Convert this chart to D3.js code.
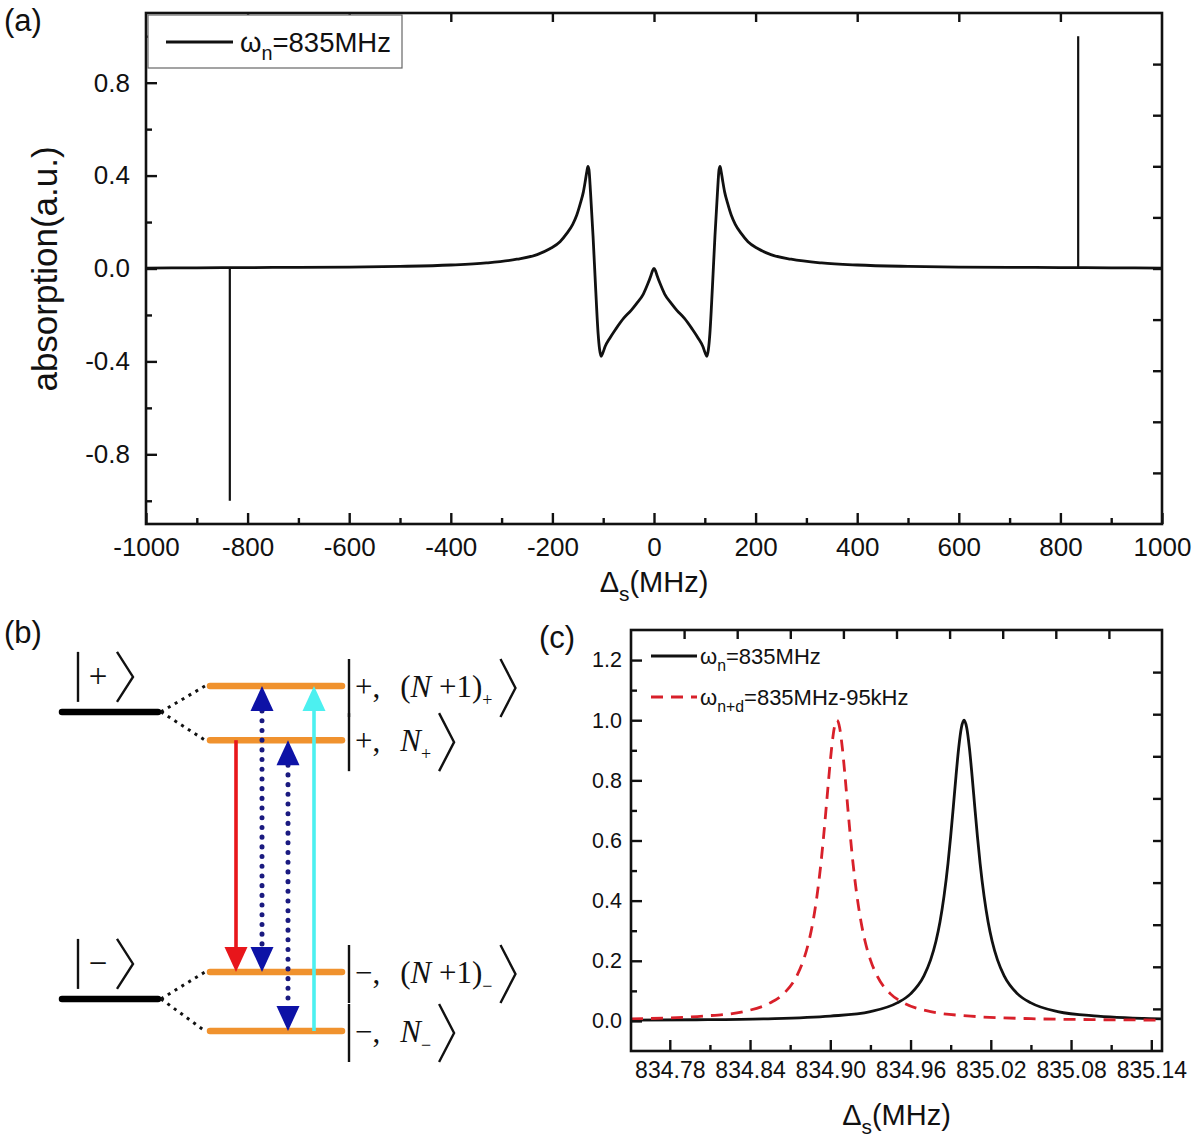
<!DOCTYPE html>
<html><head><meta charset="utf-8">
<script src="https://cdn.jsdelivr.net/npm/d3@7"></script>
<style>body{margin:0;background:#fff} svg{display:block}</style>
</head><body>
<svg id="fig" width="1200" height="1144"></svg>
<script>
// ---------------- DATA ----------------
// panel (a): absorption vs detuning
const absX = [-1000,-900,-800,-700,-600,-500,-400,-330,-270,-230,-205,-185,-172,-160,-152,-145,-139,-135,-132,-130,-128,-125,-120,-115,-110,-107,-104,-101,-96,-87,-75,-60,-45,-34,-21,-12,-6,-3,
  0,
  3,6,12,21,34,45,60,75,87,96,101,104,107,110,115,120,125,128,130,132,135,139,145,152,160,172,185,205,230,270,330,400,500,600,700,800,900,1000];
const absY = [0.002,0.003,0.004,0.005,0.006,0.009,0.015,0.024,0.040,0.060,0.085,0.115,0.150,0.190,0.230,0.280,0.330,0.380,0.420,0.440,0.425,0.330,0.140,-0.080,-0.280,-0.350,-0.378,-0.365,-0.335,-0.300,-0.260,-0.215,-0.180,-0.150,-0.110,-0.065,-0.030,-0.010,
  0.0,
  -0.010,-0.030,-0.065,-0.110,-0.150,-0.180,-0.215,-0.260,-0.300,-0.335,-0.365,-0.378,-0.350,-0.280,-0.080,0.140,0.330,0.425,0.440,0.420,0.380,0.330,0.280,0.230,0.190,0.150,0.115,0.085,0.060,0.040,0.024,0.015,0.009,0.006,0.005,0.004,0.003,0.002];
const spikeX = [-835, 835];
const spikeY = [-1.0, 1.0];
const aXMajor = [-1000,-800,-600,-400,-200,0,200,400,600,800,1000];
const aXMinor = [-900,-700,-500,-300,-100,100,300,500,700,900];
const aYMajor = [-0.8,-0.4,0.0,0.4,0.8];
const aYMinor = [-1.0,-0.6,-0.2,0.2,0.6,1.0];
const frameTicks = [0.1,0.2,0.3,0.4,0.5,0.6,0.7,0.8,0.9];
const legendA = ["ω","n","=835MHz"];

// panel (c): zoom on the resonance
const cBlackX = [834.751,834.80,834.85,834.90,834.93,834.95,834.96,834.97,834.975,834.979,834.982,834.985,834.988,834.99,834.992,834.994,834.996,834.998,835.0,835.002,835.004,835.006,835.008,835.01,835.012,835.015,835.018,835.021,835.025,835.03,835.04,835.05,835.07,835.10,835.148];
const cBlackY = [0.003,0.004,0.007,0.016,0.031,0.060,0.090,0.150,0.203,0.265,0.329,0.414,0.524,0.614,0.713,0.815,0.908,0.975,1.0,0.975,0.908,0.815,0.713,0.614,0.524,0.414,0.329,0.265,0.203,0.150,0.090,0.060,0.031,0.016,0.007];
const cRedX = [834.751,834.78,834.805,834.835,834.855,834.865,834.875,834.880,834.884,834.887,834.890,834.893,834.895,834.897,834.899,834.901,834.903,834.905,834.907,834.909,834.911,834.913,834.915,834.917,834.920,834.923,834.926,834.930,834.935,834.945,834.955,834.975,835.005,835.05,835.10,835.148];
const cRedY = [0.007,0.010,0.016,0.031,0.060,0.090,0.150,0.203,0.265,0.329,0.414,0.524,0.614,0.713,0.815,0.908,0.975,1.0,0.975,0.908,0.815,0.713,0.614,0.524,0.414,0.329,0.265,0.203,0.150,0.090,0.060,0.031,0.016,0.0075,0.0042,0.0027];
const cXMajor = [834.78,834.84,834.90,834.96,835.02,835.08,835.14];
const cXMinor = [834.81,834.87,834.93,834.99,835.05,835.11];
const cYMajor = [0.0,0.2,0.4,0.6,0.8,1.0,1.2];
const cYMinor = [0.1,0.3,0.5,0.7,0.9,1.1];
const legendC1 = ["ω","n","=835MHz"];
const legendC2 = ["ω","n+d","=835MHz-95kHz"];

// panel (b): level scheme (energies in arbitrary units)
const bareLevels = [9.25, 0.93];
const bareSign = ["+", "−"];
const dressedLevels = [10, 8.43, 1.71, 0];
const dressedParent = [0, 0, 1, 1];
const dressedSign = ["+", "+", "−", "−"];
const dressedPhoton = ["(N +1)", "N", "(N +1)", "N"];
const arrowFrom = [8.43, 10, 8.43, 0];
const arrowTo = [1.71, 1.71, 0, 10];
const arrowBoth = [false, true, true, false];
const arrowKind = ["red", "blue", "blue", "cyan"];

// ---------------- DRAWING ----------------
const svg = d3.select("#fig");
const SANS = "'Liberation Sans', Arial, Helvetica, sans-serif";
const SERIF = "'Liberation Serif', 'Times New Roman', serif";

function richText(g, x, y, parts, fs, anchor, subIdx) {
  const t = g.append("text").attr("x", x).attr("y", y)
    .attr("font-family", SANS).attr("font-size", fs)
    .attr("text-anchor", anchor || "start").attr("fill", "#111");
  const sh = fs * 0.3;
  parts.forEach((p, i) => {
    const isSub = (i === subIdx);
    const prevSub = (i - 1 === subIdx);
    const ts = t.append("tspan").text(p);
    if (isSub) ts.attr("dy", sh).attr("font-size", fs * 0.72);
    else if (prevSub) ts.attr("dy", -sh);
  });
  return t;
}

function frame(g, box, x, y, xMaj, xMin, yMaj, yMin, xFmt, yFmt, fsX, fsY, padX, padY) {
  const x2 = d3.scaleLinear().domain([0, 1]).range([box.l, box.r]);
  const y2 = d3.scaleLinear().domain([0, 1]).range([box.b, box.t]);
  const style = fs => s => { s.select(".domain").remove();
    s.attr("font-family", SANS).attr("font-size", fs);
    s.selectAll("line").attr("stroke", "#111").attr("stroke-width", 2.4);
    s.selectAll("text").attr("fill", "#111"); };
  g.append("g").attr("transform", `translate(0,${box.b})`)
    .call(d3.axisBottom(x).tickValues(xMaj).tickSize(-11).tickSizeOuter(0).tickPadding(padX).tickFormat(xFmt)).call(style(fsX));
  g.append("g").attr("transform", `translate(0,${box.b})`)
    .call(d3.axisBottom(x).tickValues(xMin).tickSize(-6).tickSizeOuter(0).tickFormat("")).call(style(fsX));
  g.append("g").attr("transform", `translate(${box.l},0)`)
    .call(d3.axisLeft(y).tickValues(yMaj).tickSize(-11).tickSizeOuter(0).tickPadding(padY).tickFormat(yFmt)).call(style(fsY));
  g.append("g").attr("transform", `translate(${box.l},0)`)
    .call(d3.axisLeft(y).tickValues(yMin).tickSize(-6).tickSizeOuter(0).tickFormat("")).call(style(fsY));
  g.append("g").attr("transform", `translate(0,${box.t})`)
    .call(d3.axisTop(x2).tickValues(frameTicks).tickSize(-9).tickSizeOuter(0).tickFormat("")).call(style(fsX));
  g.append("g").attr("transform", `translate(${box.r},0)`)
    .call(d3.axisRight(y2).tickValues(frameTicks).tickSize(-9).tickSizeOuter(0).tickFormat("")).call(style(fsY));
  g.append("rect").attr("x", box.l).attr("y", box.t).attr("width", box.r - box.l).attr("height", box.b - box.t)
    .attr("fill", "none").attr("stroke", "#111").attr("stroke-width", 2.6);
}

// ===== Panel (a) =====
const A = {l: 146, r: 1162, t: 13, b: 524};
const xA = d3.scaleLinear().domain([-1000, 1000]).range([A.l, A.r]);
const yA = d3.scaleLinear().domain([-1.1, 1.1]).range([A.b, A.t]);
const gA = svg.append("g");
const absData = absX.map((v, i) => [v, absY[i]]);
gA.append("path").datum(absData)
  .attr("d", d3.line().x(d => xA(d[0])).y(d => yA(d[1])).curve(d3.curveMonotoneX))
  .attr("fill", "none").attr("stroke", "#111").attr("stroke-width", 2.8).attr("stroke-linejoin", "round");
gA.selectAll("line.spike").data(spikeX).join("line").attr("class", "spike")
  .attr("x1", d => xA(d)).attr("x2", d => xA(d))
  .attr("y1", yA(0)).attr("y2", (d, i) => yA(spikeY[i]))
  .attr("stroke", "#111").attr("stroke-width", 2.2);
frame(gA, A, xA, yA, aXMajor, aXMinor, aYMajor, aYMinor, d => String(d), d => d.toFixed(1), 26, 26, 14, 16);
// legend (a)
gA.append("rect").attr("x", A.l + 2).attr("y", A.t + 2).attr("width", 254).attr("height", 53)
  .attr("fill", "#fff").attr("stroke", "#666").attr("stroke-width", 1.2);
gA.append("line").attr("x1", 166).attr("x2", 233).attr("y1", 42).attr("y2", 42)
  .attr("stroke", "#111").attr("stroke-width", 2.8);
richText(gA, 240, 52, legendA, 27.5, "start", 1);
// labels
richText(gA, 4, 40, ["(a)"], 31, "start", -1);
gA.append("text").attr("transform", "translate(57,269) rotate(-90)")
  .attr("text-anchor", "middle").attr("font-family", SANS).attr("font-size", 35).attr("fill", "#111")
  .text("absorption(a.u.)");
richText(gA, (A.l + A.r) / 2, 592, ["Δ", "s", "(MHz)"], 29, "middle", 1);

// ===== Panel (c) =====
const C = {l: 631, r: 1162, t: 630, b: 1051};
const xC = d3.scaleLinear().domain([834.751, 835.148]).range([C.l, C.r]);
const yC = d3.scaleLinear().domain([-0.1, 1.3]).range([C.b, C.t]);
const gC = svg.append("g");
const lineC = d3.line().x(d => xC(d[0])).y(d => yC(d[1])).curve(d3.curveMonotoneX);
gC.append("path").datum(cBlackX.map((v, i) => [v, cBlackY[i]]))
  .attr("d", lineC).attr("fill", "none").attr("stroke", "#111").attr("stroke-width", 2.8);
gC.append("path").datum(cRedX.map((v, i) => [v, cRedY[i]]))
  .attr("d", lineC).attr("fill", "none").attr("stroke", "#d8202a").attr("stroke-width", 2.8)
  .attr("stroke-dasharray", "12,8");
frame(gC, C, xC, yC, cXMajor, cXMinor, cYMajor, cYMinor, d => d.toFixed(2), d => d.toFixed(1), 23, 21.5, 11, 9);
// legend (c)
gC.append("line").attr("x1", 651).attr("x2", 697).attr("y1", 656).attr("y2", 656)
  .attr("stroke", "#111").attr("stroke-width", 2.8);
richText(gC, 700, 664, legendC1, 22, "start", 1);
gC.append("line").attr("x1", 651).attr("x2", 697).attr("y1", 697).attr("y2", 697)
  .attr("stroke", "#d8202a").attr("stroke-width", 2.8).attr("stroke-dasharray", "12,8");
richText(gC, 700, 705, legendC2, 22, "start", 1);
richText(gC, 539, 657, ["(c)"], 31, "start", -1);
richText(gC, (C.l + C.r) / 2, 1125, ["Δ", "s", "(MHz)"], 29, "middle", 1);

// ===== Panel (b) =====
const gB = svg.append("g");
const yB = d3.scaleLinear().domain([0, 10]).range([1031, 686]);
const xArrow = d3.scaleLinear().domain([0, 3]).range([236, 314]);
richText(gB, 4, 652, ["(b)"], 31, "start", -1);

// bare levels and kets
bareLevels.forEach((e, i) => {
  const y = yB(e);
  gB.append("line").attr("x1", 62).attr("x2", 158).attr("y1", y).attr("y2", y)
    .attr("stroke", "#000").attr("stroke-width", 6.5).attr("stroke-linecap", "round");
  const top = y - 60, bot = y - 10, mid = (top + bot) / 2;
  gB.append("line").attr("x1", 78).attr("x2", 78).attr("y1", top).attr("y2", bot)
    .attr("stroke", "#111").attr("stroke-width", 2.4);
  gB.append("text").attr("x", 98).attr("y", mid + 10).attr("text-anchor", "middle")
    .attr("font-family", SERIF).attr("font-size", 33).attr("fill", "#111").text(bareSign[i]);
  gB.append("path").attr("d", `M117,${top} L133,${mid} L117,${bot}`)
    .attr("fill", "none").attr("stroke", "#111").attr("stroke-width", 2.4);
});

// dressed levels
dressedLevels.forEach((e, i) => {
  const y = yB(e), yp = yB(bareLevels[dressedParent[i]]);
  gB.append("line").attr("x1", 161).attr("y1", yp).attr("x2", 205).attr("y2", y)
    .attr("stroke", "#111").attr("stroke-width", 3).attr("stroke-dasharray", "3,5");
  gB.append("line").attr("x1", 210).attr("x2", 342).attr("y1", y).attr("y2", y)
    .attr("stroke", "#f0922e").attr("stroke-width", 6.5).attr("stroke-linecap", "round");
  const yc = y + 2, top = yc - 29, bot = yc + 29;
  gB.append("line").attr("x1", 349).attr("x2", 349).attr("y1", top).attr("y2", bot)
    .attr("stroke", "#111").attr("stroke-width", 2.4);
  const t = gB.append("text").attr("x", 355).attr("y", yc + 9)
    .attr("font-family", SERIF).attr("font-size", 31).attr("fill", "#111");
  t.append("tspan").text(dressedSign[i] + ",");
  const ph = dressedPhoton[i];
  if (ph.startsWith("(")) {
    t.append("tspan").attr("dx", 20).text("(");
    t.append("tspan").attr("font-style", "italic").text("N");
    t.append("tspan").text(ph.slice(2));
  } else {
    t.append("tspan").attr("dx", 20).attr("font-style", "italic").text(ph);
  }
  t.append("tspan").attr("dy", 9).attr("font-size", 18).text(dressedSign[i]);
  const bb = t.node().getBBox();
  const cx = bb.x + bb.width + 8;
  gB.append("path").attr("d", `M${cx},${top} L${cx + 15},${yc} L${cx},${bot}`)
    .attr("fill", "none").attr("stroke", "#111").attr("stroke-width", 2.4);
});

// transitions
const kindColor = {red: "#e8161b", blue: "#0d12a6", cyan: "#4cf0f0"};
const HEAD = 25, HW = 11.5;
arrowFrom.forEach((f, i) => {
  const x = xArrow(i), y1 = yB(f), y2 = yB(arrowTo[i]);
  const dir = y2 > y1 ? 1 : -1;
  const kind = arrowKind[i];
  const ls = arrowBoth[i] ? y1 + dir * HEAD : y1;
  const le = y2 - dir * HEAD;
  const ln = gB.append("line").attr("x1", x).attr("x2", x).attr("y1", ls).attr("y2", le);
  if (kind === "blue") {
    ln.attr("stroke", "#1a1a80").attr("stroke-width", 5).attr("stroke-linecap", "round")
      .attr("stroke-dasharray", "0.1,9.6");
  } else {
    ln.attr("stroke", kindColor[kind]).attr("stroke-width", 3.6);
  }
  const tri = (tipY, d) => `M${x},${tipY} L${x - HW},${tipY - d * HEAD} L${x + HW},${tipY - d * HEAD} Z`;
  gB.append("path").attr("d", tri(y2, dir)).attr("fill", kindColor[kind]);
  if (arrowBoth[i]) gB.append("path").attr("d", tri(y1, -dir)).attr("fill", kindColor[kind]);
});
</script>
</body></html>
